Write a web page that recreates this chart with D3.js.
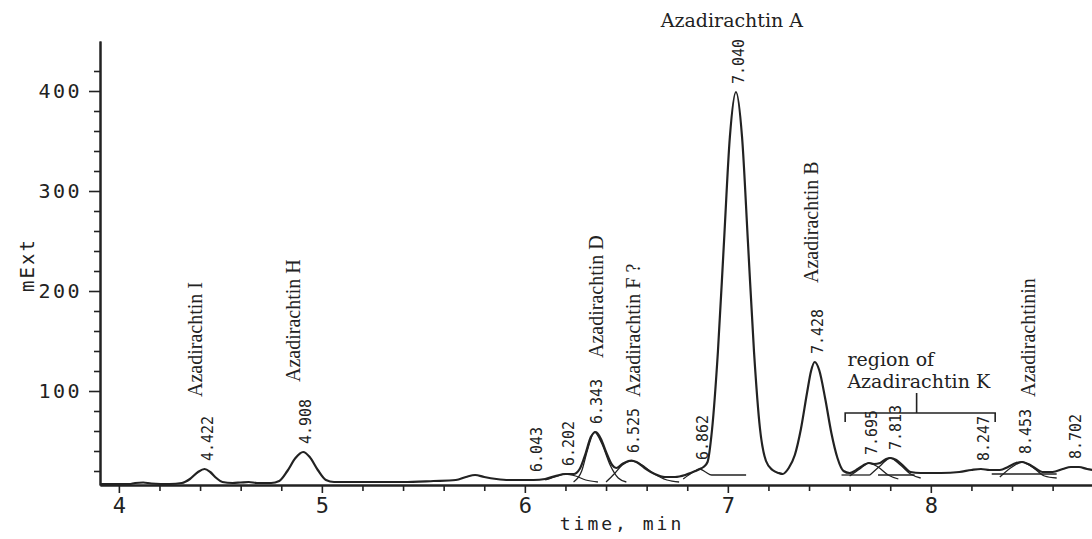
<!DOCTYPE html>
<html>
<head>
<meta charset="utf-8">
<script src="https://cdn.jsdelivr.net/npm/d3@7"></script>
<style>
  body { margin: 0; background: #fff; }
  svg { display: block; }
</style>
</head>
<body>
<div id="chart"></div>
<script>
// chromatogram trace, [time (min), signal (mExt)]
const trace = [
  [3.91, 7], [4.00, 7], [4.05, 7], [4.08, 8], [4.12, 8.5], [4.16, 7.5], [4.25, 7], [4.31, 8],
  [4.35, 12], [4.39, 19], [4.422, 22], [4.45, 19], [4.48, 13], [4.51, 9], [4.56, 8], [4.60, 8.5],
  [4.64, 9], [4.68, 8], [4.75, 8], [4.79, 10], [4.83, 20], [4.87, 33], [4.908, 39], [4.94, 34],
  [4.98, 21], [5.02, 11], [5.06, 9], [5.20, 9], [5.40, 9], [5.55, 10], [5.66, 11], [5.71, 14],
  [5.755, 16], [5.80, 14], [5.86, 12], [5.92, 11], [6.00, 11], [6.043, 11], [6.10, 12], [6.15, 15],
  [6.202, 17], [6.24, 17], [6.27, 22], [6.30, 38], [6.325, 54], [6.35, 59], [6.375, 52], [6.40, 39],
  [6.43, 26], [6.45, 23], [6.48, 27], [6.51, 30], [6.525, 30.5], [6.55, 29], [6.59, 23], [6.64, 17],
  [6.69, 14], [6.74, 14], [6.79, 16], [6.84, 20], [6.862, 22], [6.88, 24], [6.90, 29], [6.922, 61],
  [6.951, 139], [6.981, 249], [7.010, 354], [7.040, 399], [7.070, 354], [7.099, 249], [7.129, 139],
  [7.158, 63], [7.188, 30], [7.22, 21], [7.25, 18], [7.27, 17], [7.30, 23], [7.33, 36], [7.36, 62],
  [7.39, 98], [7.41, 120], [7.428, 129], [7.45, 121], [7.48, 92], [7.51, 58], [7.54, 33], [7.57, 20],
  [7.60, 18], [7.64, 22], [7.67, 26], [7.695, 28], [7.72, 27], [7.75, 28], [7.78, 32], [7.80, 33],
  [7.83, 31], [7.87, 24], [7.90, 19], [7.95, 18], [8.05, 18], [8.14, 19], [8.20, 21], [8.247, 22],
  [8.29, 21], [8.34, 21], [8.38, 24], [8.42, 28], [8.45, 29], [8.48, 27], [8.52, 22], [8.55, 19],
  [8.60, 19], [8.65, 22], [8.69, 24], [8.73, 24], [8.77, 22], [8.80, 21]
];

// fitted single-peak curves drawn by the integrator
const fit6202 = [[6.10, 11], [6.16, 15], [6.20, 17], [6.25, 15], [6.30, 11], [6.36, 9]];
const fit6343 = [[6.24, 9], [6.28, 20], [6.31, 42], [6.343, 59], [6.38, 47], [6.42, 26], [6.46, 13], [6.50, 9]];
const fit6525 = [[6.40, 9], [6.44, 17], [6.48, 26], [6.525, 30], [6.57, 27], [6.63, 18], [6.70, 11], [6.76, 9]];
const fit6862 = [[6.78, 12], [6.83, 19], [6.862, 22], [6.89, 19], [6.92, 16], [7.09, 16]];
const fit7695 = [[7.60, 15], [7.65, 22], [7.695, 28], [7.74, 24], [7.79, 16], [7.84, 12]];
const fit7813 = [[7.70, 16], [7.75, 25], [7.80, 33], [7.85, 26], [7.90, 17], [7.95, 13]];
const fit8453 = [[8.34, 14], [8.40, 24], [8.45, 29], [8.50, 24], [8.56, 15], [8.62, 13]];
const baseSegments = [
  [[7.56, 16], [7.70, 16]],
  [[7.74, 16], [7.92, 16]],
  [[8.30, 17], [8.62, 17]]
];

const peakLabels = ["4.422", "4.908", "6.043", "6.202", "6.343", "6.525", "6.862", "7.040", "7.428", "7.695", "7.813", "8.247", "8.453", "8.702"];
const peakTimes = [4.422, 4.908, 6.043, 6.202, 6.343, 6.525, 6.862, 7.040, 7.428, 7.695, 7.813, 8.247, 8.453, 8.702];
const peakHeights = [22, 39, 11, 17, 59, 30, 23, 399, 129, 28, 33, 22, 29, 24];

const compoundNames = ["Azadirachtin I", "Azadirachtin H", "Azadirachtin D", "Azadirachtin F ?", "Azadirachtin B", "Azadirachtinin"];
const compoundTimes = [4.375, 4.858, 6.351, 6.533, 7.410, 8.479];
const compoundLevels = [94, 109, 133, 94, 208, 94];

const xMajorTicks = [4, 5, 6, 7, 8];
const xMinorTicks = [4.2, 4.4, 4.6, 4.8, 5.2, 5.4, 5.6, 5.8, 6.2, 6.4, 6.6, 6.8, 7.2, 7.4, 7.6, 7.8, 8.2, 8.4, 8.6];
const yMajorTicks = [100, 200, 300, 400];
const yMinorTicks = [20, 40, 60, 80, 120, 140, 160, 180, 220, 240, 260, 280, 320, 340, 360, 380, 420];

const width = 1092, height = 539;
const ink = "#222";
const mono = "'DejaVu Sans Mono', monospace";
const serif = "'Liberation Serif', 'Times New Roman', serif";
const wideSerif = "'DejaVu Serif', serif";

const svg = d3.select("#chart")
    .append("svg")
    .attr("width", width)
    .attr("height", height);

const x = d3.scaleLinear().domain([3.907, 8.794]).range([100, 1092]);
const y = d3.scaleLinear().domain([6, 450]).range([485, 41]);

// axes
const yMinor = svg.append("g")
    .attr("transform", `translate(${x.range()[0]},0)`)
    .call(d3.axisLeft(y).tickValues(yMinorTicks).tickSize(6).tickSizeOuter(0).tickFormat(""));
const yMajor = svg.append("g")
    .attr("transform", `translate(${x.range()[0]},0)`)
    .call(d3.axisLeft(y).tickValues(yMajorTicks).tickSize(11).tickSizeOuter(0).tickPadding(7));
const xMinor = svg.append("g")
    .attr("transform", `translate(0,${y.range()[0]})`)
    .call(d3.axisBottom(x).tickValues(xMinorTicks).tickSize(6).tickSizeOuter(0).tickFormat(""));
const xMajor = svg.append("g")
    .attr("transform", `translate(0,${y.range()[0]})`)
    .call(d3.axisBottom(x).tickValues(xMajorTicks).tickSize(8).tickSizeOuter(0).tickPadding(4).tickFormat(d3.format("d")));

[yMinor, yMajor, xMinor, xMajor].forEach(g => {
    g.attr("color", ink);
    g.selectAll("line").attr("stroke-width", 1.6);
    g.select(".domain").attr("stroke-width", 2);
});
yMajor.selectAll("text")
    .attr("font-family", mono)
    .attr("font-size", 20)
    .attr("letter-spacing", 2.5);
xMajor.selectAll("text")
    .attr("font-family", mono)
    .attr("font-size", 22);

svg.append("text")
    .attr("x", 622)
    .attr("y", 530)
    .attr("text-anchor", "middle")
    .attr("font-family", mono)
    .attr("font-size", 18)
    .attr("letter-spacing", 3)
    .attr("fill", ink)
    .text("time, min");

svg.append("text")
    .attr("transform", "translate(27,265) rotate(-90)")
    .attr("text-anchor", "middle")
    .attr("dominant-baseline", "central")
    .attr("font-family", mono)
    .attr("font-size", 19)
    .attr("letter-spacing", 2)
    .attr("fill", ink)
    .text("mExt");

// signal
const line = d3.line()
    .x(d => x(d[0]))
    .y(d => y(d[1]))
    .curve(d3.curveMonotoneX);

const plot = svg.append("g");

plot.selectAll(".fit")
    .data([fit6202, fit6343, fit6525, fit6862, fit7695, fit7813, fit8453])
    .join("path")
    .attr("class", "fit")
    .attr("d", line)
    .attr("fill", "none")
    .attr("stroke", ink)
    .attr("stroke-width", 1.3);

plot.selectAll(".base")
    .data(baseSegments)
    .join("path")
    .attr("class", "base")
    .attr("d", d3.line().x(d => x(d[0])).y(d => y(d[1])))
    .attr("fill", "none")
    .attr("stroke", ink)
    .attr("stroke-width", 1.3);

plot.append("path")
    .datum(trace)
    .attr("d", line)
    .attr("fill", "none")
    .attr("stroke", ink)
    .attr("stroke-width", 2.2)
    .attr("stroke-linejoin", "round");

// retention time labels printed above each peak
svg.append("g")
    .selectAll("text")
    .data(peakLabels)
    .join("text")
    .attr("transform", (d, i) => `translate(${x(peakTimes[i]) + 3},${y(peakHeights[i]) - 8}) rotate(-90)`)
    .attr("dominant-baseline", "central")
    .attr("font-family", mono)
    .attr("font-size", 15)
    .attr("fill", ink)
    .text(d => d);

// compound names
svg.append("g")
    .selectAll("text")
    .data(compoundNames)
    .join("text")
    .attr("transform", (d, i) => `translate(${x(compoundTimes[i])},${y(compoundLevels[i])}) rotate(-90)`)
    .attr("dominant-baseline", "central")
    .attr("font-family", serif)
    .attr("font-size", 20)
    .attr("fill", ink)
    .text(d => d);

svg.append("text")
    .attr("x", x(7.02))
    .attr("y", y(464))
    .attr("text-anchor", "middle")
    .attr("font-family", wideSerif)
    .attr("font-size", 19)
    .attr("fill", ink)
    .text("Azadirachtin A");

const region = svg.append("text")
    .attr("x", x(7.589))
    .attr("y", y(125))
    .attr("font-family", wideSerif)
    .attr("font-size", 19)
    .attr("fill", ink);
region.append("tspan").text("region of");
region.append("tspan").attr("x", x(7.589)).attr("dy", 22).text("Azadirachtin K");

// bracket over the K region
const bracket = d3.path();
bracket.moveTo(x(7.578), y(69));
bracket.lineTo(x(7.578), y(78));
bracket.lineTo(x(8.317), y(78));
bracket.lineTo(x(8.317), y(69));
bracket.moveTo(x(7.93), y(78));
bracket.lineTo(x(7.93), y(98));
svg.append("path")
    .attr("d", bracket.toString())
    .attr("fill", "none")
    .attr("stroke", ink)
    .attr("stroke-width", 1.6);
</script>
</body>
</html>
